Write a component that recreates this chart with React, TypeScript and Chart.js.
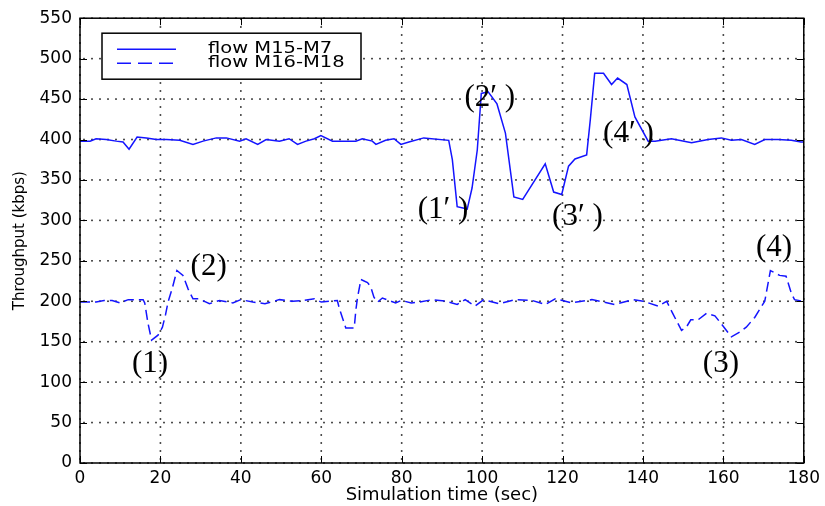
import React, { useEffect, useRef } from 'react';
import { Chart, registerables } from 'chart.js';

Chart.register(...registerables);

// ---- data ----
const timeM15 = [0, 2.5, 4, 6.5, 9, 10.7, 12.2, 14.2, 16.5, 19, 21.5, 24.8, 28.1, 30.6, 33.9, 36.4, 39.7, 41.3, 44.2, 46.3, 49.6, 52, 54.1, 56.2, 58.3, 59.9, 62.8, 66.1, 68.6, 70.2, 72.7, 73.6, 76, 78.1, 79.8, 81.8, 85.5, 91.7, 92.6, 93.8, 95.5, 96.3, 97.5, 98.8, 99.8, 101.5, 103.7, 105.8, 107.9, 110.1, 115.7, 117.8, 119.8, 121.5, 123.1, 126, 126.9, 128, 130.2, 132.2, 133.7, 136, 138, 141.3, 143, 147.1, 152.1, 156.2, 159.5, 162, 164.5, 167.8, 170.3, 173.6, 176.9, 179.3, 180];
const flowM15 = [398, 398, 401, 400, 398, 397, 388, 403, 402, 400, 400, 399, 394, 398, 402, 402, 398, 401, 394, 400, 398, 401, 394, 398, 401, 405, 398, 398, 398, 401, 398, 394, 399, 401, 394, 397, 402, 399, 375, 317, 315, 314, 340, 387, 457, 459, 444, 408, 329, 326, 370, 335, 332, 367, 376, 381, 424, 482, 482, 468, 476, 468, 428, 398, 398, 401, 396, 400, 402, 399, 400, 394, 400, 400, 399, 397, 397];

const timeM16 = [0, 2, 4, 6, 8, 10, 12, 14, 15.7, 16.1, 16.9, 17.8, 19.4, 20.5, 21.3, 21.9, 23, 24.1, 25.6, 26.9, 28.1, 29.6, 32.2, 34.7, 38, 40, 43, 46, 49.6, 52.9, 55.4, 58.3, 60, 64, 64.5, 65.3, 66.1, 68.2, 68.6, 69, 69.6, 69.8, 71.5, 72.3, 73.1, 74, 75.2, 78.5, 79.9, 82.4, 84.5, 87.6, 91, 93.8, 95.8, 98.2, 100.4, 104.2, 108.3, 112.4, 115.7, 118.2, 122.3, 127.3, 133, 137.6, 140.1, 143.8, 145.9, 147.5, 149.6, 150.8, 151.9, 153.7, 155.8, 157.9, 159.5, 162, 164.1, 165.7, 167.8, 170.3, 171.7, 174, 175.6, 176.9, 177.7, 179.8, 180];
const flowM16 = [199, 199, 199, 201, 201, 198, 202, 202, 202, 198, 173, 152, 158, 168, 184, 199, 217, 238, 232, 215, 203, 203, 197, 201, 198, 202, 199, 197, 202, 200, 201, 203, 199, 201, 191, 179, 167, 167, 189, 204, 220, 227, 223, 218, 205, 199, 204, 198, 201, 198, 199, 202, 200, 196, 202, 194, 202, 197, 202, 201, 196, 203, 198, 202, 196, 202, 200, 194, 200, 184, 164, 168, 177, 177, 185, 182, 172, 156, 162, 168, 180, 200, 238, 232, 231, 210, 202, 200, 200];

const xTickValues = [0, 20, 40, 60, 80, 100, 120, 140, 160, 180];
const yTickValues = [0, 50, 100, 150, 200, 250, 300, 350, 400, 450, 500, 550];

const seriesNames = ['flow M15-M7', 'flow M16-M18'];
const xAxisTitle = 'Simulation time (sec)';
const yAxisTitle = 'Throughput (kbps)';

const noteTexts = ['(1)', '(2)', '(3)', '(4)', '(1\u2032 )', '(2\u2032 )', '(3\u2032 )', '(4\u2032 )'];
const noteX = [17.4, 32.0, 159.4, 172.6, 90.3, 101.9, 123.7, 136.4];
const noteY = [125, 245, 125, 268, 315, 454, 307, 409];

const BLUE = 'rgb(20,20,255)';
const SANS = '"DejaVu Sans", sans-serif';
const SERIF = '"Liberation Serif", "Times New Roman", serif';

export default function App() {
  const ref = useRef<HTMLCanvasElement | null>(null);

  useEffect(() => {
    const canvas = ref.current;
    if (!canvas) return;

    const dottedGrid = {
      id: 'dottedGrid',
      beforeDatasetsDraw(chart: any) {
        const { ctx, chartArea } = chart;
        const xs = chart.scales.x;
        const ys = chart.scales.y;
        const { left, right, top, bottom } = chartArea;
        ctx.save();
        ctx.fillStyle = '#222';
        const step = 8;
        const d = 1.6;
        xTickValues.forEach((v) => {
          const px = xs.getPixelForValue(v);
          for (let y = bottom - 4; y > top; y -= step) {
            ctx.fillRect(px - d / 2, y - d / 2, d, d);
          }
        });
        yTickValues.forEach((v) => {
          const py = ys.getPixelForValue(v);
          for (let x = left + 4; x < right; x += step) {
            ctx.fillRect(x - d / 2, py - d / 2, d, d);
          }
        });
        ctx.restore();
      },
    };

    const overlay = {
      id: 'overlay',
      afterDraw(chart: any) {
        const { ctx, chartArea } = chart;
        const xs = chart.scales.x;
        const ys = chart.scales.y;
        const { left, right, top, bottom } = chartArea;
        ctx.save();
        // frame
        ctx.strokeStyle = '#000';
        ctx.lineWidth = 1.5;
        ctx.setLineDash([]);
        ctx.strokeRect(left, top, right - left, bottom - top);
        // inward ticks
        ctx.lineWidth = 1;
        const tl = 7;
        ctx.beginPath();
        xTickValues.forEach((v) => {
          const px = Math.round(xs.getPixelForValue(v)) + 0.5;
          ctx.moveTo(px, bottom);
          ctx.lineTo(px, bottom - tl);
          ctx.moveTo(px, top);
          ctx.lineTo(px, top + tl);
        });
        yTickValues.forEach((v) => {
          const py = Math.round(ys.getPixelForValue(v)) + 0.5;
          ctx.moveTo(left, py);
          ctx.lineTo(left + tl, py);
          ctx.moveTo(right, py);
          ctx.lineTo(right - tl, py);
        });
        ctx.stroke();

        // legend box
        const lx = left + 22;
        const ly = top + 15;
        const lw = 259;
        const lh = 46;
        ctx.fillStyle = '#fff';
        ctx.fillRect(lx, ly, lw, lh);
        ctx.lineWidth = 1.5;
        ctx.strokeStyle = '#000';
        ctx.strokeRect(lx, ly, lw, lh);
        const rows = [ly + 16, ly + 30];
        ctx.strokeStyle = BLUE;
        ctx.lineWidth = 1.5;
        rows.forEach((ry, i) => {
          ctx.setLineDash(i === 0 ? [] : [14, 7]);
          ctx.beginPath();
          ctx.moveTo(lx + 15, ry);
          ctx.lineTo(lx + 74, ry);
          ctx.stroke();
        });
        ctx.setLineDash([]);
        ctx.fillStyle = '#000';
        ctx.font = `15px ${SANS}`;
        ctx.textAlign = 'left';
        ctx.textBaseline = 'middle';
        rows.forEach((ry, i) => {
          ctx.save();
          ctx.translate(lx + 106, ry);
          ctx.scale(1.3, 1);
          ctx.fillText(seriesNames[i], 0, 0);
          ctx.restore();
        });

        // annotations
        ctx.font = `31px ${SERIF}`;
        ctx.textAlign = 'center';
        ctx.textBaseline = 'middle';
        ctx.fillStyle = '#000';
        noteTexts.forEach((t, i) => {
          ctx.fillText(t, xs.getPixelForValue(noteX[i]), ys.getPixelForValue(noteY[i]) + 2);
        });
        ctx.restore();
      },
    };

    const chart = new Chart(canvas, {
      type: 'line',
      data: {
        datasets: [
          {
            label: seriesNames[0],
            data: timeM15.map((t, i) => ({ x: t, y: flowM15[i] })),
            borderColor: BLUE,
            borderWidth: 1.5,
            pointRadius: 0,
            tension: 0,
            fill: false,
          },
          {
            label: seriesNames[1],
            data: timeM16.map((t, i) => ({ x: t, y: flowM16[i] })),
            borderColor: BLUE,
            borderWidth: 1.5,
            borderDash: [10, 5],
            pointRadius: 0,
            tension: 0,
            fill: false,
          },
        ],
      },
      options: {
        responsive: false,
        animation: false,
        events: [],
        layout: { padding: { top: 18, right: 19, left: 0, bottom: 0 } },
        plugins: {
          legend: { display: false },
          tooltip: { enabled: false },
        },
        scales: {
          x: {
            type: 'linear',
            min: 0,
            max: 180,
            afterBuildTicks: (s: any) => {
              s.ticks = xTickValues.map((v) => ({ value: v }));
            },
            ticks: {
              color: '#000',
              font: { family: SANS, size: 17 },
              padding: 5,
              maxRotation: 0,
            },
            grid: { display: false, drawTicks: false },
            border: { display: false },
            title: {
              display: true,
              text: xAxisTitle,
              color: '#000',
              font: { family: SANS, size: 18 },
              padding: { top: 0, bottom: 0 },
            },
            afterFit: (s: any) => {
              s.height = 43;
            },
          },
          y: {
            type: 'linear',
            min: 0,
            max: 550,
            afterBuildTicks: (s: any) => {
              s.ticks = yTickValues.map((v) => ({ value: v }));
            },
            ticks: {
              color: '#000',
              font: { family: SANS, size: 17 },
              padding: 8,
            },
            grid: { display: false, drawTicks: false },
            border: { display: false },
            title: {
              display: true,
              text: yAxisTitle,
              color: '#000',
              font: { family: SANS, size: 15 },
              padding: { top: 11, bottom: 0 },
            },
            afterFit: (s: any) => {
              s.width = 80;
            },
          },
        },
      },
      plugins: [dottedGrid, overlay],
    } as any);

    return () => chart.destroy();
  }, []);

  return (
    <div style={{ position: 'absolute', left: 0, top: 0, width: 825, height: 506, background: '#fff' }}>
      <canvas ref={ref} width={825} height={506} style={{ display: 'block', width: 825, height: 506 }} />
    </div>
  );
}
